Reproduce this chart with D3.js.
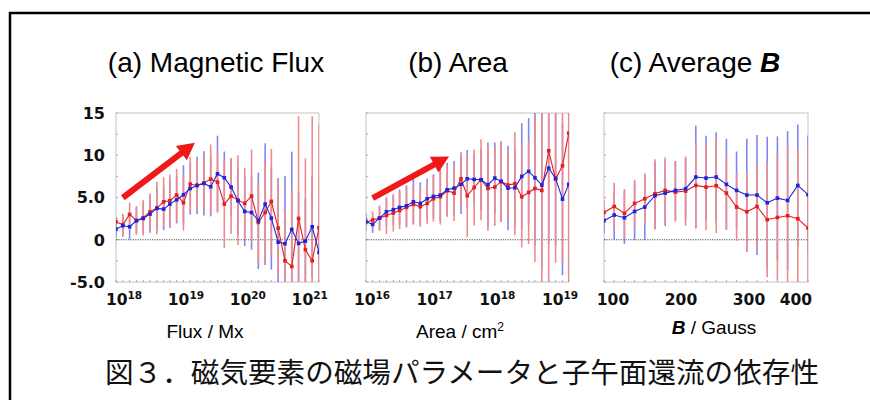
<!DOCTYPE html>
<html>
<head>
<meta charset="utf-8">
<script src="https://cdn.jsdelivr.net/npm/d3@7"></script>
<style>
  body { margin: 0; background: #fff; }
</style>
</head>
<body>
<svg id="chart" width="870" height="400"></svg>
<script>
// ---- data (log10 of flux / area, B in gauss) ----
const fluxExp = [17.87, 17.98, 18.09, 18.20, 18.31, 18.42, 18.53, 18.64, 18.74, 18.85, 18.96, 19.07, 19.18, 19.29, 19.40, 19.51,
                 19.62, 19.73, 19.84, 19.95, 20.06, 20.17, 20.28, 20.38, 20.49, 20.60, 20.71, 20.82, 20.93, 21.04, 21.15];
const fluxBlue = [1.26, 1.66, 1.54, 2.25, 2.52, 3.04, 3.71, 3.63, 4.22, 4.73, 5.33, 6.07, 6.43, 6.67, 6.27, 7.81,
                  7.34, 6.23, 4.62, 3.35, 3.23, 2.25, 4.22, 2.56, -0.28, -0.47, 1.22, -0.43, -0.16, 1.54, -1.5];
const fluxBlueErr = [1.0, 1.3, 1.5, 1.5, 1.8, 2.2, 2.6, 2.5, 2.8, 2.8, 3.5, 3.1, 3.4, 3.8, 3.5, 4.5,
                     3.1, 3.4, 4.0, 4.1, 4.4, 5.7, 7.2, 6.1, 7.6, 8.0, 9.2, 6.0, 5.0, 6.0, 5.0];
const fluxRed = [2.13, 1.78, 3.0, 2.29, 2.6, 3.31, 3.75, 4.5, 4.62, 5.29, 4.38, 6.59, 6.43, 6.71, 7.18, 6.82,
                 4.22, 5.17, 4.69, 4.30, 5.17, 2.05, 3.23, 4.54, 1.38, -2.49, -3.16, 2.52, -1.18, -2.49, 1.42];
const fluxRedErr = [0.6, 1.3, 1.4, 1.7, 2.1, 2.2, 3.1, 2.9, 3.1, 3.1, 3.3, 3.2, 3.0, 3.1, 4.1, 3.6,
                    5.2, 4.5, 5.3, 4.2, 5.5, 4.8, 6.0, 6.2, 5.7, 6.0, 9.1, 12.1, 10.8, 17.1, 12.2];

const areaExp = [15.90, 16.01, 16.12, 16.23, 16.34, 16.44, 16.55, 16.66, 16.77, 16.88, 16.98, 17.09, 17.20, 17.31, 17.42, 17.52,
                 17.63, 17.74, 17.85, 17.96, 18.06, 18.17, 18.28, 18.39, 18.50, 18.60, 18.71, 18.82, 18.93, 19.04, 19.14];
const areaBlue = [2.17, 1.81, 2.56, 3.31, 3.55, 3.83, 4.02, 4.50, 4.30, 4.85, 5.13, 5.29, 5.92, 6.11, 6.55, 7.22,
                  7.14, 7.10, 6.51, 7.30, 6.90, 6.11, 6.15, 7.50, 8.09, 7.34, 6.47, 8.48, 7.26, 4.81, 6.55];
const areaBlueErr = [1.0, 1.0, 1.4, 1.6, 1.8, 2.1, 2.4, 2.7, 2.5, 2.4, 2.6, 3.1, 3.2, 3.2, 3.5, 3.4,
                     3.0, 3.6, 5.0, 4.2, 4.7, 5.0, 4.5, 6.3, 6.3, 8.0, 10.0, 9.0, 8.0, 9.0, 10.1];
const areaRed = [2.05, 2.33, 2.56, 2.88, 3.16, 3.47, 3.83, 4.18, 3.91, 4.30, 4.85, 5.09, 5.80, 5.52, 7.22, 5.21,
                 6.19, 7.10, 6.07, 6.23, 6.90, 6.47, 6.63, 5.09, 5.60, 6.07, 5.84, 10.53, 7.18, 8.76, 12.62];
const areaRedErr = [1.0, 1.0, 1.5, 2.2, 2.2, 2.2, 2.4, 2.3, 2.4, 2.4, 2.7, 3.3, 3.0, 3.3, 3.2, 4.9,
                    4.5, 4.8, 5.0, 4.6, 4.8, 4.0, 6.1, 6.0, 6.1, 8.7, 11.0, 16.0, 9.9, 11.5, 18.0];

const bField = [100, 115, 130, 145, 160, 175, 190, 205, 220, 235, 250, 265, 280, 295, 310, 325, 340, 355, 370, 385, 400];
const bBlue = [2.25, 2.92, 2.60, 3.35, 3.87, 5.21, 5.52, 5.84, 6.04, 7.42, 7.30, 7.42, 6.55, 5.84, 5.29, 5.29, 4.38, 4.93, 4.65, 6.43, 5.33];
const bBlueErr = [1.5, 2.9, 3.1, 3.4, 3.9, 4.0, 3.9, 3.5, 3.6, 6.1, 5.0, 5.3, 5.4, 4.6, 6.7, 7.1, 7.8, 7.3, 8.2, 7.2, 7.0];
const bRed = [3.23, 3.94, 3.12, 4.30, 4.85, 5.44, 5.84, 5.64, 5.76, 6.43, 6.23, 6.39, 5.52, 3.87, 3.31, 3.94, 2.37, 2.64, 2.84, 2.49, 1.38];
const bRedErr = [1.5, 2.8, 2.9, 2.8, 3.0, 4.1, 3.9, 3.5, 4.1, 5.0, 5.1, 5.6, 4.3, 4.0, 4.7, 4.9, 6.8, 7.4, 8.2, 8.2, 9.7];

const yTicks = [15, 10, 5, 0, -5];
const yTickLabels = ["15", "10", "5.0", "0", "-5.0"];
const fluxTicks = [18, 19, 20, 21];
const areaTicks = [16, 17, 18, 19];
const bTicks = [100, 200, 300, 400];

// arrows in data units: [x0, y0, x1, y1]
const fluxArrow = [17.98, 4.97, 19.145, 11.48];
const areaArrow = [16.01, 4.93, 17.23, 9.85];

const svg = d3.select("#chart");
const plotTop = 113, plotBottom = 282;
const y = d3.scaleLinear().domain([-5, 15]).range([plotBottom, plotTop]);

// outer frame (runs off the right and bottom edges)
svg.append("rect")
    .attr("x", 10).attr("y", 13)
    .attr("width", 900).attr("height", 420)
    .attr("fill", "none")
    .attr("stroke", "#000")
    .attr("stroke-width", 2.5);

const panels = [
    { id: "a", left: 116, right: 319, log: true, domain: [17.87, 21.15], xs: fluxExp,
      blue: fluxBlue, blueErr: fluxBlueErr, red: fluxRed, redErr: fluxRedErr, ticks: fluxTicks, arrow: fluxArrow },
    { id: "b", left: 366, right: 569, log: true, domain: [15.904, 19.144], xs: areaExp,
      blue: areaBlue, blueErr: areaBlueErr, red: areaRed, redErr: areaRedErr, ticks: areaTicks, arrow: areaArrow },
    { id: "c", left: 604, right: 808, log: false, domain: [100, 400], xs: bField,
      blue: bBlue, blueErr: bBlueErr, red: bRed, redErr: bRedErr, ticks: bTicks, arrow: null }
];

panels.forEach(p => {
    let x;
    if (p.log) {
        const sc = d3.scaleLog().domain([10 ** p.domain[0], 10 ** p.domain[1]]).range([p.left, p.right]);
        x = v => sc(10 ** v);
    } else {
        const sc = d3.scaleLinear().domain(p.domain).range([p.left, p.right]);
        x = v => sc(v);
    }

    const g = svg.append("g");

    g.append("clipPath").attr("id", "clip-" + p.id)
        .append("rect")
        .attr("x", p.left).attr("y", plotTop)
        .attr("width", p.right - p.left).attr("height", plotBottom - plotTop);

    // frame of the plot area
    g.append("rect")
        .attr("x", p.left).attr("y", plotTop)
        .attr("width", p.right - p.left).attr("height", plotBottom - plotTop)
        .attr("fill", "#fff")
        .attr("stroke", "#c4c4c4")
        .attr("stroke-width", 1);

    // little ticks on the y side and bottom
    g.selectAll(".ymin")
        .data(d3.range(-5, 15.01, 2.5))
        .join("line")
        .attr("x1", p.left).attr("x2", p.left + 2)
        .attr("y1", d => y(d)).attr("y2", d => y(d))
        .attr("stroke", "#aaa");
    g.selectAll(".xmin")
        .data(p.xs)
        .join("line")
        .attr("x1", d => x(d)).attr("x2", d => x(d))
        .attr("y1", plotBottom).attr("y2", plotBottom - 2)
        .attr("stroke", "#aaa");

    // zero line
    g.append("line")
        .attr("x1", p.left).attr("x2", p.right)
        .attr("y1", y(0)).attr("y2", y(0))
        .attr("stroke", "#222")
        .attr("stroke-width", 0.8)
        .attr("stroke-dasharray", "1.2,1.2");

    const inner = g.append("g").attr("clip-path", `url(#clip-${p.id})`);

    const blueData = p.xs.map((v, i) => ({ x: v, y: p.blue[i], e: p.blueErr[i] }));
    const redData = p.xs.map((v, i) => ({ x: v, y: p.red[i], e: p.redErr[i] }));

    // error bars: blue first, red on top
    inner.selectAll(".berr")
        .data(blueData)
        .join("line")
        .attr("x1", d => x(d.x)).attr("x2", d => x(d.x))
        .attr("y1", d => y(d.y - d.e)).attr("y2", d => y(d.y + d.e))
        .attr("stroke", "#8386ef")
        .attr("stroke-width", 1.6);
    inner.selectAll(".rerr")
        .data(redData)
        .join("line")
        .attr("x1", d => x(d.x)).attr("x2", d => x(d.x))
        .attr("y1", d => y(d.y - d.e)).attr("y2", d => y(d.y + d.e))
        .attr("stroke", "#f08a8a")
        .attr("stroke-width", 1.6);

    const line = d3.line().x(d => x(d.x)).y(d => y(d.y));

    [[redData, "#e41e1e"], [blueData, "#1c25dc"]].forEach(([data, col]) => {
        inner.append("path")
            .datum(data)
            .attr("d", line)
            .attr("fill", "none")
            .attr("stroke", col)
            .attr("stroke-width", 1.1);
        inner.selectAll(null)
            .data(data)
            .join("rect")
            .attr("x", d => x(d.x) - 1.8).attr("y", d => y(d.y) - 1.8)
            .attr("width", 3.6).attr("height", 3.6)
            .attr("fill", col);
    });

    // trend arrow
    if (p.arrow) {
        const [ax0, ay0, ax1, ay1] = p.arrow;
        const x1 = x(ax0), y1 = y(ay0), x2 = x(ax1), y2 = y(ay1);
        const ang = Math.atan2(y2 - y1, x2 - x1);
        const hl = 17, hw = 9;
        const bx = x2 - hl * Math.cos(ang), by = y2 - hl * Math.sin(ang);
        g.append("line")
            .attr("x1", x1).attr("y1", y1)
            .attr("x2", bx + 2 * Math.cos(ang)).attr("y2", by + 2 * Math.sin(ang))
            .attr("stroke", "#f01818")
            .attr("stroke-width", 6);
        g.append("polygon")
            .attr("points", [
                [x2, y2],
                [bx + hw * Math.sin(ang), by - hw * Math.cos(ang)],
                [bx - hw * Math.sin(ang), by + hw * Math.cos(ang)]
            ].map(pt => pt.join(",")).join(" "))
            .attr("fill", "#f01818");
    }

    // x tick labels
    const tl = g.selectAll(".xt")
        .data(p.ticks)
        .join("text")
        .attr("font-family", "DejaVu Sans, Verdana, sans-serif")
        .attr("font-weight", "bold")
        .attr("font-size", 15.5)
        .attr("fill", "#111")
        .attr("y", 305);
    if (p.log) {
        tl.attr("x", d => x(d)).attr("text-anchor", "middle");
        tl.append("tspan").text("10");
        tl.append("tspan").attr("font-size", 10.5).attr("dy", -6).text(d => d);
    } else {
        tl.attr("x", (d, i) => i === p.ticks.length - 1 ? x(d) + 4 : x(d) + 9)
          .attr("text-anchor", (d, i) => i === p.ticks.length - 1 ? "end" : "middle")
          .text(d => d);
    }
});

// y tick labels (only on panel a)
svg.selectAll(".yt")
    .data(yTicks)
    .join("text")
    .attr("x", 105)
    .attr("y", d => y(d))
    .attr("dy", "0.36em")
    .attr("text-anchor", "end")
    .attr("font-family", "DejaVu Sans, Verdana, sans-serif")
    .attr("font-weight", "bold")
    .attr("font-size", 16)
    .attr("fill", "#111")
    .text((d, i) => yTickLabels[i]);

// panel titles
const titleFont = "Liberation Sans, Arial, Helvetica, sans-serif";
svg.append("text").attr("x", 216).attr("y", 72).attr("text-anchor", "middle")
    .attr("font-family", titleFont).attr("font-size", 28).text("(a) Magnetic Flux");
svg.append("text").attr("x", 458).attr("y", 72).attr("text-anchor", "middle")
    .attr("font-family", titleFont).attr("font-size", 28).text("(b) Area");
const tc = svg.append("text").attr("x", 695).attr("y", 72).attr("text-anchor", "middle")
    .attr("font-family", titleFont).attr("font-size", 28);
tc.append("tspan").text("(c) Average ");
tc.append("tspan").attr("font-weight", "bold").attr("font-style", "italic").text("B");

// axis titles
svg.append("text").attr("x", 205).attr("y", 338).attr("text-anchor", "middle")
    .attr("font-family", titleFont).attr("font-size", 19).text("Flux / Mx");
const at = svg.append("text").attr("x", 460).attr("y", 338).attr("text-anchor", "middle")
    .attr("font-family", titleFont).attr("font-size", 19);
at.append("tspan").text("Area / cm");
at.append("tspan").attr("font-size", 12).attr("dy", -7).text("2");
const bt = svg.append("text").attr("x", 714).attr("y", 334).attr("text-anchor", "middle")
    .attr("font-family", titleFont).attr("font-size", 19);
bt.append("tspan").attr("font-weight", "bold").attr("font-style", "italic").text("B");
bt.append("tspan").text(" / Gauss");

// caption
svg.append("text").attr("x", 462).attr("y", 383).attr("text-anchor", "middle")
    .attr("font-family", "Noto Sans CJK JP, sans-serif").attr("font-size", 28.6)
    .attr("fill", "#111")
    .text("図３．磁気要素の磁場パラメータと子午面還流の依存性");
</script>
</body>
</html>
